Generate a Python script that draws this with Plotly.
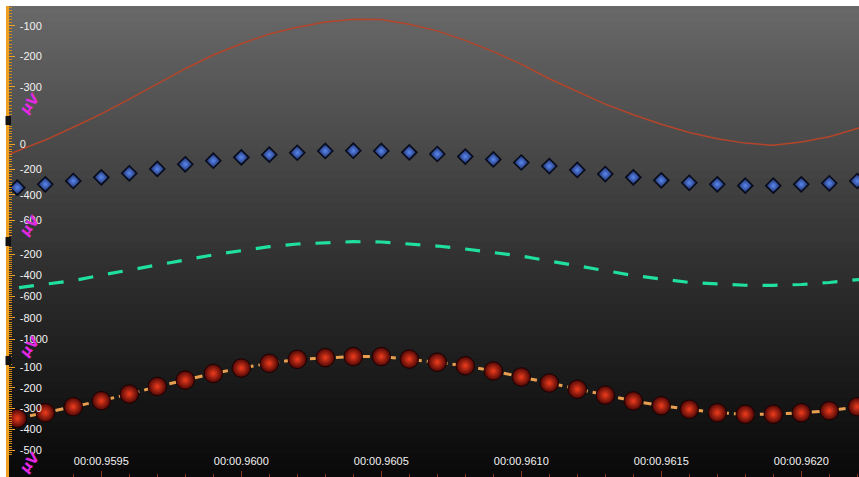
import plotly.graph_objects as go

# ---------------- data ----------------
times = [0.9592, 0.9593, 0.9594, 0.9595, 0.9596, 0.9597, 0.9598, 0.9599, 0.9600, 0.9601,
         0.9602, 0.9603, 0.9604, 0.9605, 0.9606, 0.9607, 0.9608, 0.9609, 0.9610, 0.9611,
         0.9612, 0.9613, 0.9614, 0.9615, 0.9616, 0.9617, 0.9618, 0.9619, 0.9620, 0.9621,
         0.9622]
times_ext = [0.9591] + times + [0.9623]

# channel 1 (thin red line), µV
ch1 = [-547, -511, -475, -433, -389, -341, -291, -241, -196, -159, -127, -105, -88, -79, -80,
       -95, -117, -148, -185, -226, -274, -316, -357, -392, -423, -450, -471, -485, -492,
       -481, -464, -437, -406]
# channel 2 (blue diamonds), µV
ch2 = [-345, -318, -292, -263, -231, -197, -160, -132, -105, -84, -69, -55, -53, -55, -66,
       -79, -99, -122, -146, -174, -205, -237, -263, -287, -306, -318, -329, -329, -318,
       -310, -292]
# channel 3 (green dashed line), µV
ch3 = [-553, -518, -485, -450, -399, -351, -303, -253, -208, -169, -131, -106, -92, -84, -87,
       -105, -125, -153, -186, -219, -266, -313, -355, -402, -435, -468, -482, -494, -495,
       -487, -468, -443, -416]
# channel 4 (red balls on orange dashed line), µV
ch4 = [-347, -320, -291, -262, -230, -194, -163, -131, -105, -82, -63, -55, -50, -50, -62,
       -77, -94, -119, -148, -177, -207, -235, -263, -286, -303, -320, -327, -327, -320,
       -310, -291]

x_tickvals = [0.9595, 0.9600, 0.9605, 0.9610, 0.9615, 0.9620]
x_ticktext = ["00:00.9595", "00:00.9600", "00:00.9605", "00:00.9610", "00:00.9615", "00:00.9620"]

y1_ticks = [-100, -200, -300]
y2_ticks = [0, -200, -400, -600]
y3_ticks = [-200, -400, -600, -800, -1000]
y4_ticks = [-100, -200, -300, -400, -500, -600]
unit_label = "µV"

# ---------------- figure ----------------
W, H = 859, 477
fig = go.Figure()

fig.add_trace(go.Scatter(x=times_ext, y=ch1, mode="lines", yaxis="y",
                         line=dict(color="#b4452a", width=1.5), hoverinfo="skip"))
fig.add_trace(go.Scatter(x=times, y=ch2, mode="markers", yaxis="y2",
                         marker=dict(symbol="diamond", size=11.5, color="#18285e",
                                     gradient=dict(type="radial", color="#5a88f0"),
                                     line=dict(color="#070b1a", width=1.6)),
                         hoverinfo="skip"))
fig.add_trace(go.Scatter(x=times_ext, y=ch3, mode="lines", yaxis="y3",
                         line=dict(color="#1fe0a0", width=3.2, dash="15px,15px"),
                         hoverinfo="skip"))
fig.add_trace(go.Scatter(x=times, y=ch4, mode="lines+markers", yaxis="y4",
                         line=dict(color="#e8a050", width=3, dash="8px,5px"),
                         marker=dict(symbol="circle", size=18.5, color="#4a0606",
                                     gradient=dict(type="radial", color="#f03c1c"),
                                     line=dict(color="#1c0000", width=1)),
                         hoverinfo="skip"))

tickfont = dict(family="Liberation Sans, Arial, sans-serif", size=11, color="#f2f2f2")
orange = "#f0a020"


def yax(rng, ticks, minor_vals, showline=False, overlay=True):
    d = dict(range=rng, domain=[0, 1], tickmode="array", tickvals=ticks,
             ticktext=[str(v) for v in ticks],
             ticks="inside", ticklen=6, tickwidth=1, tickcolor=orange,
             ticklabelposition="inside", ticklabelstandoff=4, tickfont=tickfont,
             showgrid=False, zeroline=False, showline=showline,
             linecolor=orange, linewidth=3, fixedrange=True,
             minor=dict(tickmode="array", tickvals=minor_vals, ticks="inside",
                        ticklen=3, tickwidth=1, tickcolor="#d08818"))
    if overlay:
        d.update(overlaying="y", anchor="x")
    return d


m1 = list(range(-40, -391, -10))
m2 = list(range(140, -721, -20))
m3 = list(range(-140, -1161, -20))
m4 = list(range(-90, -621, -10))

# background gradient bands (overlapping to avoid seams)
shapes = []
nb = 60
for i in range(nb):
    f = (i + 0.5) / nb
    c = int(round(10 + 95 * (1 - f) ** 1.15))
    shapes.append(dict(type="rect", xref="paper", yref="paper", x0=0, x1=1,
                       y0=max(0, 1 - (i + 1.6) / nb), y1=1 - i / nb, layer="below",
                       line=dict(width=0), fillcolor=f"rgb({c},{c},{c})"))
# segment separators on the left axis
for yp in [120.5, 241.5, 360.5]:
    yc = (H - yp) / (H - 6)
    shapes.append(dict(type="rect", xref="paper", yref="paper",
                       x0=-3.5 / 850, x1=2 / 850, y0=yc - 4.5 / 471, y1=yc + 4.5 / 471,
                       line=dict(width=0), fillcolor="#111111", layer="above"))

annotations = []
for yp in [104, 226, 347, 463]:
    annotations.append(dict(text=unit_label, xref="paper", yref="paper",
                            x=(29 - 9) / 850, y=(H - yp) / (H - 6), showarrow=False,
                            xanchor="center", yanchor="middle",
                            textangle=-50,
                            font=dict(family="DejaVu Sans, sans-serif", size=14,
                                      color="#e428e4", weight="bold")))

fig.update_layout(
    width=W, height=H,
    margin=dict(l=9, r=0, t=6, b=0, pad=0),
    paper_bgcolor="white", plot_bgcolor="#333333",
    showlegend=False,
    xaxis=dict(range=[0.9591704, 0.9622061], tickmode="array", tickvals=x_tickvals,
               ticktext=x_ticktext, ticks="inside", ticklen=6, tickcolor="#8a3322",
               ticklabelposition="inside", ticklabelstandoff=3, tickfont=tickfont,
               showgrid=False, zeroline=False, showline=False, fixedrange=True,
               minor=dict(dtick=0.0001, tick0=0.9595, ticks="inside", ticklen=3,
                          tickcolor="#8a3322")),
    yaxis=yax([-1579.7, -35.4], y1_ticks, m1, showline=True, overlay=False),
    yaxis2=yax([-2628.8, 1089.5], y2_ticks, m2),
    yaxis3=yax([-2298.8, 2134.1], y3_ticks, m3),
    yaxis4=yax([-628.8, 1635.6], y4_ticks, m4),
    shapes=shapes,
    annotations=annotations,
)

fig.write_html("out.html", config={"displayModeBar": False},
               post_script="document.body.style.margin='0px';")
